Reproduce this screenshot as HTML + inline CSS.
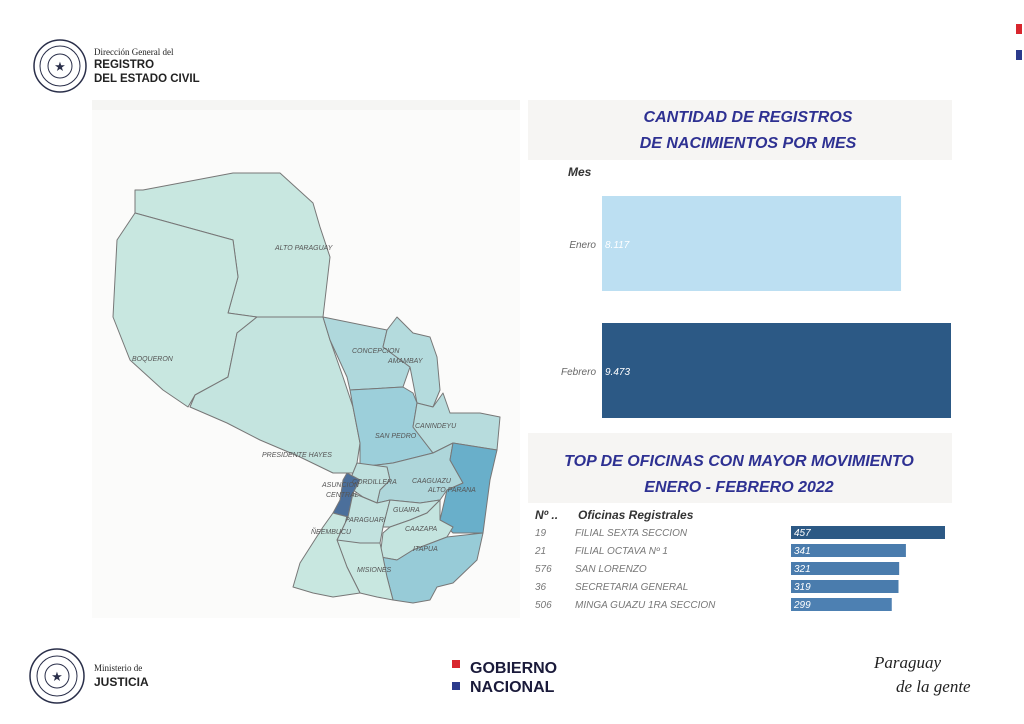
<!DOCTYPE html>
<html><head><meta charset="utf-8"><style>
body{margin:0;width:1024px;height:724px;background:#fff;font-family:"Liberation Sans",sans-serif;position:relative;overflow:hidden}
.abs{position:absolute}
</style></head><body>
<div class="abs" style="left:92px;top:100px;width:428px;height:518px;background:#fbfbfa"></div>
<div class="abs" style="left:92px;top:100px;width:428px;height:10px;background:#f5f5f3"></div>
<div class="abs" style="left:528px;top:100px;width:424px;height:60px;background:#f6f5f3"></div>
<div class="abs" style="left:528px;top:433px;width:424px;height:70px;background:#f6f5f3"></div>
<svg class="abs" style="left:0;top:0" width="1024" height="724">
 <g>
  <circle cx="60" cy="66" r="26" fill="#fff" stroke="#2a2f4a" stroke-width="1.5"/>
  <circle cx="60" cy="66" r="20" fill="none" stroke="#2a2f4a" stroke-width="1"/>
  <circle cx="60" cy="66" r="12" fill="none" stroke="#2a2f4a" stroke-width="1"/>
  <text x="60" y="71" text-anchor="middle" font-size="13" fill="#2a2f4a">★</text>
 </g>
 <text x="94" y="55" font-family="Liberation Serif" font-size="9" fill="#222">Dirección General del</text>
 <text x="94" y="68" font-size="11.5" font-weight="bold" fill="#222">REGISTRO</text>
 <text x="94" y="82" font-size="11.5" font-weight="bold" fill="#222">DEL ESTADO CIVIL</text>
 <rect x="1016" y="24" width="6" height="10" fill="#d8262e"/>
 <rect x="1016" y="50" width="6" height="10" fill="#2b3a8c"/>

 <g stroke="#777" stroke-width="1" stroke-linejoin="round">
  <polygon fill="#c8e7e0" points="135,190 143,190 233,173 280,173 313,203 320,227 330,257 323,317 257,317 228,313 238,277 233,240 135,213"/>
  <polygon fill="#c8e7e0" points="135,213 233,240 238,277 228,313 257,317 237,333 228,377 195,395 188,407 163,390 130,360 113,317 117,240"/>
  <polygon fill="#c4e4df" points="257,317 323,317 330,340 343,377 353,407 360,443 357,463 353,473 333,473 300,457 260,440 227,423 190,407 195,395 228,377 237,333"/>
  <polygon fill="#afd8dc" points="323,317 387,330 383,347 410,367 403,387 350,390 347,377 330,340"/>
  <polygon fill="#b4dbdd" points="387,330 397,317 413,333 430,337 437,357 440,390 433,407 417,403 410,367 383,347"/>
  <polygon fill="#9ccfda" points="350,390 403,387 413,393 417,403 413,427 433,453 393,463 360,467 360,443 353,407"/>
  <polygon fill="#b7dcdd" points="417,403 433,407 443,393 450,413 480,413 500,417 497,450 453,443 433,453 413,427"/>
  <polygon fill="#aed6da" points="360,467 393,463 433,453 453,443 450,460 463,483 447,490 440,500 420,503 390,500 377,503 380,490 390,480 387,467"/>
  <polygon fill="#69afca" points="453,443 497,450 490,480 483,533 453,533 440,520 447,490 463,483 450,460"/>
  <polygon fill="#bfe0de" points="357,463 387,467 390,480 380,490 377,503 363,497 353,490 350,480"/>
  <polygon fill="#4b6f9b" points="347,473 360,480 353,493 348,517 333,513 340,500 343,480"/>
  <polygon fill="#c2e2df" points="353,493 377,503 390,500 383,527 380,543 360,543 340,550 337,540 348,517"/>
  <polygon fill="#c2e2df" points="390,500 420,503 440,500 427,513 410,520 390,527 383,527"/>
  <polygon fill="#c4e4df" points="390,527 410,520 427,513 440,500 440,520 453,527 447,537 413,550 397,560 380,557 383,533"/>
  <polygon fill="#97cbd7" points="447,537 483,533 477,560 453,583 437,587 430,600 413,603 393,600 387,577 380,557 397,560 413,550"/>
  <polygon fill="#c8e7e0" points="337,540 360,543 380,543 383,557 387,577 393,600 377,597 360,593 347,567"/>
  <polygon fill="#c8e7e0" points="333,513 348,517 337,540 347,567 360,593 333,597 313,593 293,587 300,563 323,527"/>
 </g>
 <g font-size="7" font-style="italic" fill="#555">
  <text x="275" y="250">ALTO PARAGUAY</text>
  <text x="132" y="361">BOQUERON</text>
  <text x="262" y="457">PRESIDENTE HAYES</text>
  <text x="352" y="353">CONCEPCION</text>
  <text x="388" y="363">AMAMBAY</text>
  <text x="375" y="438">SAN PEDRO</text>
  <text x="415" y="428">CANINDEYU</text>
  <text x="412" y="483">CAAGUAZU</text>
  <text x="428" y="492">ALTO PARANA</text>
  <text x="322" y="487">ASUNCION</text>
  <text x="352" y="484">CORDILLERA</text>
  <text x="326" y="497">CENTRAL</text>
  <text x="393" y="512">GUAIRA</text>
  <text x="345" y="522">PARAGUARI</text>
  <text x="311" y="534">ÑEEMBUCU</text>
  <text x="405" y="531">CAAZAPA</text>
  <text x="413" y="551">ITAPUA</text>
  <text x="357" y="572">MISIONES</text>
 </g>

 <g font-family="Liberation Sans" font-style="italic" font-weight="bold" fill="#2e3192" text-anchor="middle" font-size="16">
  <text x="748" y="122">CANTIDAD DE REGISTROS</text>
  <text x="748" y="148">DE NACIMIENTOS POR MES</text>
  <text x="739" y="466">TOP DE OFICINAS CON MAYOR MOVIMIENTO</text>
  <text x="739" y="492">ENERO - FEBRERO  2022</text>
 </g>
 <text x="568" y="176" font-size="12" font-weight="bold" font-style="italic" fill="#333">Mes</text>
 <g id="chart1"></g>
 <text x="535" y="519" font-size="12" font-weight="bold" font-style="italic" fill="#333">Nº ..</text>
 <text x="578" y="519" font-size="12" font-weight="bold" font-style="italic" fill="#333">Oficinas Registrales</text>
 <g id="chart2"></g>

 <g>
  <circle cx="57" cy="676" r="27" fill="#fff" stroke="#2a2f4a" stroke-width="1.5"/>
  <circle cx="57" cy="676" r="20" fill="none" stroke="#2a2f4a" stroke-width="1"/>
  <circle cx="57" cy="676" r="12" fill="none" stroke="#2a2f4a" stroke-width="1"/>
  <text x="57" y="681" text-anchor="middle" font-size="13" fill="#2a2f4a">★</text>
 </g>
 <text x="94" y="671" font-family="Liberation Serif" font-size="9" fill="#222">Ministerio de</text>
 <text x="94" y="686" font-size="12" font-weight="bold" fill="#222">JUSTICIA</text>
 <rect x="452" y="660" width="8" height="8" fill="#d8262e"/>
 <rect x="452" y="682" width="8" height="8" fill="#2b3a8c"/>
 <text x="470" y="673" font-size="16" font-weight="bold" fill="#1a1a3a">GOBIERNO</text>
 <text x="470" y="692" font-size="16" font-weight="bold" fill="#1a1a3a">NACIONAL</text>
 <text x="874" y="668" font-family="Liberation Serif" font-style="italic" font-size="17" fill="#222">Paraguay</text>
 <text x="896" y="692" font-family="Liberation Serif" font-style="italic" font-size="17" fill="#222">de la gente</text>
</svg>
<script>
var months=["Enero","Febrero"];
var monthValues=[8117,9473];
var monthLabels=["8.117","9.473"];
var officeNums=["19","21","576","36","506"];
var officeNames=["FILIAL SEXTA SECCION","FILIAL OCTAVA Nº 1","SAN LORENZO","SECRETARIA GENERAL","MINGA GUAZU 1RA SECCION"];
var officeValues=[457,341,321,319,299];
var NS="http://www.w3.org/2000/svg";
function mk(t,a,p){var e=document.createElementNS(NS,t);for(var k in a)e.setAttribute(k,a[k]);p.appendChild(e);return e;}
var g1=document.getElementById('chart1');
var x1=function(v){return 602+v/9473*349;};
var y1=function(i){return 196+i*127;};
months.forEach(function(m,i){
 var r=mk('rect',{x:602,y:y1(i),width:x1(monthValues[i])-602,height:95,fill:i==0?'#bcdff2':'#2c5985'},g1);
 
 
 var t=mk('text',{x:596,y:y1(i)+52,'text-anchor':'end','font-size':10,'font-style':'italic',fill:'#666'},g1);t.textContent=m;
 
 
 var v=mk('text',{x:605,y:y1(i)+52,'font-size':10,'font-style':'italic',fill:'#fff'},g1);v.textContent=monthLabels[i];
 
 
});
var g2=document.getElementById('chart2');
var x2=function(v){return 791+v/457*154;};
var y2=function(i){return 526+i*18;};
var cols=['#2c5985','#4a7cad','#4a7cad','#4a7cad','#4d80b2'];
officeValues.forEach(function(v,i){
 var r=mk('rect',{x:791,y:y2(i),width:x2(v)-791,height:13,fill:cols[i]},g2);
 
 
 var t=mk('text',{x:794,y:y2(i)+10,'font-size':10,'font-style':'italic',fill:'#fff'},g2);t.textContent=v;
 
 
 var n=mk('text',{x:535,y:y2(i)+10,'font-size':10,'font-style':'italic',fill:'#777'},g2);n.textContent=officeNums[i];
 
 
 var o=mk('text',{x:575,y:y2(i)+10,'font-size':10,'font-style':'italic',fill:'#777'},g2);o.textContent=officeNames[i];
 
 
});
</script>
</body></html>
